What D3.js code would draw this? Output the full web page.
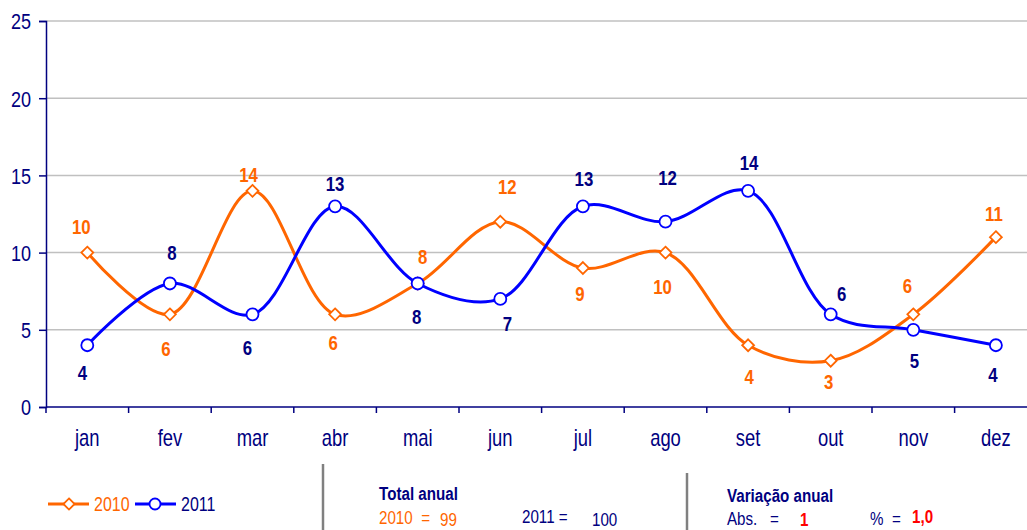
<!DOCTYPE html>
<html>
<head>
<meta charset="utf-8">
<script src="https://cdn.jsdelivr.net/npm/d3@7"></script>
<style>
  html, body { margin: 0; padding: 0; background: #fff; }
  svg { display: block; }
  text { font-family: "Liberation Sans", Arial, sans-serif; }
  .pre { white-space: pre; }
</style>
</head>
<body>
<svg id="chart" width="1027" height="530"></svg>
<script>
// ---- data ----
const months = ["jan","fev","mar","abr","mai","jun","jul","ago","set","out","nov","dez"];
const values2010 = [10, 6, 14, 6, 8, 12, 9, 10, 4, 3, 6, 11];
const values2011 = [4, 8, 6, 13, 8, 7, 13, 12, 14, 6, 5, 4];
const yTicks = [0, 5, 10, 15, 20, 25];
const seriesNames = ["2010", "2011"];
const total2010 = "99", total2011 = "100";
const varAbs = "1", varPct = "1,0";

// ---- layout ----
// label offsets (pixels) relative to each marker, as placed in the original
const labelDy2010 = [-26, 34, -16, 28, -27, -35, 25, 34, 31, 21, -29, -24];
const labelDx2010 = [-6, -4, -4, -2, 5, 7, -3, -3, 1, -2, -6, -2];
const labelDy2011 = [27, -31, 33, -23, 33, 25, -28, -44, -28, -21, 31, 29];
const labelDx2011 = [-5, 2, -5, 0, -1, 7, 1, 2, 1, 11, 1, -3];

const svg = d3.select("#chart");
const plotLeft = 46, plotTop = 21, plotBottom = 407, band = 82.6;
const navy = "#000080", orange = "#FF6600", blue = "#0000FF", red = "#FF0000";
const K = 0.82; // horizontal condensing to mimic a narrow typeface

function narrow(sel, k = K) {
  sel.each(function () {
    const t = d3.select(this);
    const tx = +t.attr("x") || 0, ty = +t.attr("y") || 0;
    t.attr("x", 0).attr("y", 0).attr("transform", `translate(${tx},${ty}) scale(${k},1)`);
  });
  return sel;
}

const x = d3.scaleBand().domain(months).range([plotLeft, plotLeft + band * months.length]);
const y = d3.scaleLinear().domain([0, 25]).range([plotBottom, plotTop]);
const cx = m => x(m) + x.bandwidth() / 2;

// gridlines
svg.append("g").selectAll("line").data(yTicks.filter(d => d > 0)).join("line")
  .attr("x1", plotLeft).attr("x2", 1027)
  .attr("y1", d => y(d)).attr("y2", d => y(d))
  .attr("stroke", "#c0c0c0").attr("stroke-width", 1.5);

// y axis
const yAxis = svg.append("g").attr("transform", `translate(${plotLeft},0)`)
  .call(d3.axisLeft(y).tickValues(yTicks).tickSize(7).tickPadding(8));
yAxis.select(".domain").attr("stroke", navy).attr("stroke-width", 1.5);
yAxis.selectAll(".tick line").attr("stroke", navy).attr("stroke-width", 1.5);
yAxis.selectAll(".tick text").attr("fill", navy).attr("font-size", 22)
  .attr("font-family", "Liberation Sans, Arial, sans-serif").attr("dy", "0.36em");
narrow(yAxis.selectAll(".tick text"));

// x axis
const xAxis = svg.append("g").attr("transform", `translate(0,${plotBottom})`)
  .call(d3.axisBottom(x).tickSize(0).tickPadding(23));
xAxis.select(".domain").remove();
xAxis.selectAll(".tick text").attr("fill", navy).attr("font-size", 23)
  .attr("font-family", "Liberation Sans, Arial, sans-serif");
narrow(xAxis.selectAll(".tick text"), 0.8);
svg.append("line").attr("x1", plotLeft).attr("x2", 1027).attr("y1", plotBottom).attr("y2", plotBottom)
  .attr("stroke", navy).attr("stroke-width", 1.5);
svg.append("g").selectAll("line").data(d3.range(months.length + 1)).join("line")
  .attr("x1", i => plotLeft + i * x.step()).attr("x2", i => plotLeft + i * x.step())
  .attr("y1", plotBottom).attr("y2", plotBottom + 6)
  .attr("stroke", navy).attr("stroke-width", 1.5);

// lines
const line = d3.line().x((d, i) => cx(months[i])).y(d => y(d)).curve(d3.curveCatmullRom.alpha(0.5));
svg.append("path").datum(values2010).attr("d", line)
  .attr("fill", "none").attr("stroke", orange).attr("stroke-width", 3);
svg.append("path").datum(values2011).attr("d", line)
  .attr("fill", "none").attr("stroke", blue).attr("stroke-width", 3);

// markers
const diamond = d3.symbol().type(d3.symbolDiamond2).size(90);
svg.append("g").selectAll("path").data(values2010).join("path")
  .attr("d", diamond)
  .attr("transform", (d, i) => `translate(${cx(months[i])},${y(d)})`)
  .attr("fill", "#fff").attr("stroke", orange).attr("stroke-width", 1.8);
svg.append("g").selectAll("circle").data(values2011).join("circle")
  .attr("cx", (d, i) => cx(months[i])).attr("cy", d => y(d)).attr("r", 6)
  .attr("fill", "#fff").attr("stroke", blue).attr("stroke-width", 1.8);

// data labels
function labels(vals, dxs, dys, color) {
  const t = svg.append("g").selectAll("text").data(vals).join("text")
    .attr("x", (d, i) => cx(months[i]) + dxs[i])
    .attr("y", (d, i) => y(d) + dys[i])
    .attr("dy", "0.36em")
    .attr("text-anchor", "middle")
    .attr("font-size", 21).attr("font-weight", "bold").attr("fill", color)
    .text(d => d);
  narrow(t, 0.8);
}
labels(values2010, labelDx2010, labelDy2010, orange);
labels(values2011, labelDx2011, labelDy2011, navy);

// legend
const lg = svg.append("g");
lg.append("line").attr("x1", 48).attr("x2", 89).attr("y1", 504).attr("y2", 504).attr("stroke", orange).attr("stroke-width", 3);
lg.append("path").attr("d", d3.symbol().type(d3.symbolDiamond2).size(80)).attr("transform", "translate(69,504)")
  .attr("fill", "#fff").attr("stroke", orange).attr("stroke-width", 1.8);
narrow(lg.append("text").attr("x", 94).attr("y", 511).attr("font-size", 19.5).attr("fill", orange).text(seriesNames[0]));
lg.append("line").attr("x1", 135).attr("x2", 176).attr("y1", 504).attr("y2", 504).attr("stroke", blue).attr("stroke-width", 3);
lg.append("circle").attr("cx", 155).attr("cy", 504).attr("r", 5.5)
  .attr("fill", "#fff").attr("stroke", blue).attr("stroke-width", 1.8);
narrow(lg.append("text").attr("x", 181).attr("y", 511).attr("font-size", 19.5).attr("fill", navy).text(seriesNames[1]));

// separators
svg.append("line").attr("x1", 323).attr("x2", 323).attr("y1", 464).attr("y2", 530).attr("stroke", "#808080").attr("stroke-width", 2.5);
svg.append("line").attr("x1", 687).attr("x2", 687).attr("y1", 473).attr("y2", 530).attr("stroke", "#808080").attr("stroke-width", 2.5);

// totals and variation
const foot = svg.append("g");
function ft(xp, yp, txt, color, bold) {
  const t = foot.append("text").attr("class", "pre").attr("x", xp).attr("y", yp).attr("font-size", 18.5)
    .attr("font-weight", bold ? "bold" : "normal").attr("fill", color).text(txt);
  narrow(t);
}
ft(379, 500, "Total anual", navy, true);
ft(379, 524, seriesNames[0] + "  =", orange, false);
ft(440, 526, total2010, orange, false);
ft(522, 523, seriesNames[1] + " =", navy, false);
ft(592, 526, total2011, navy, false);

ft(727, 502, "Variação anual", navy, true);
ft(727, 525, "Abs.   =", navy, false);
ft(800, 526, varAbs, red, true);
ft(870, 525, "%  =", navy, false);
ft(912, 523, varPct, red, true);
</script>
</body>
</html>
